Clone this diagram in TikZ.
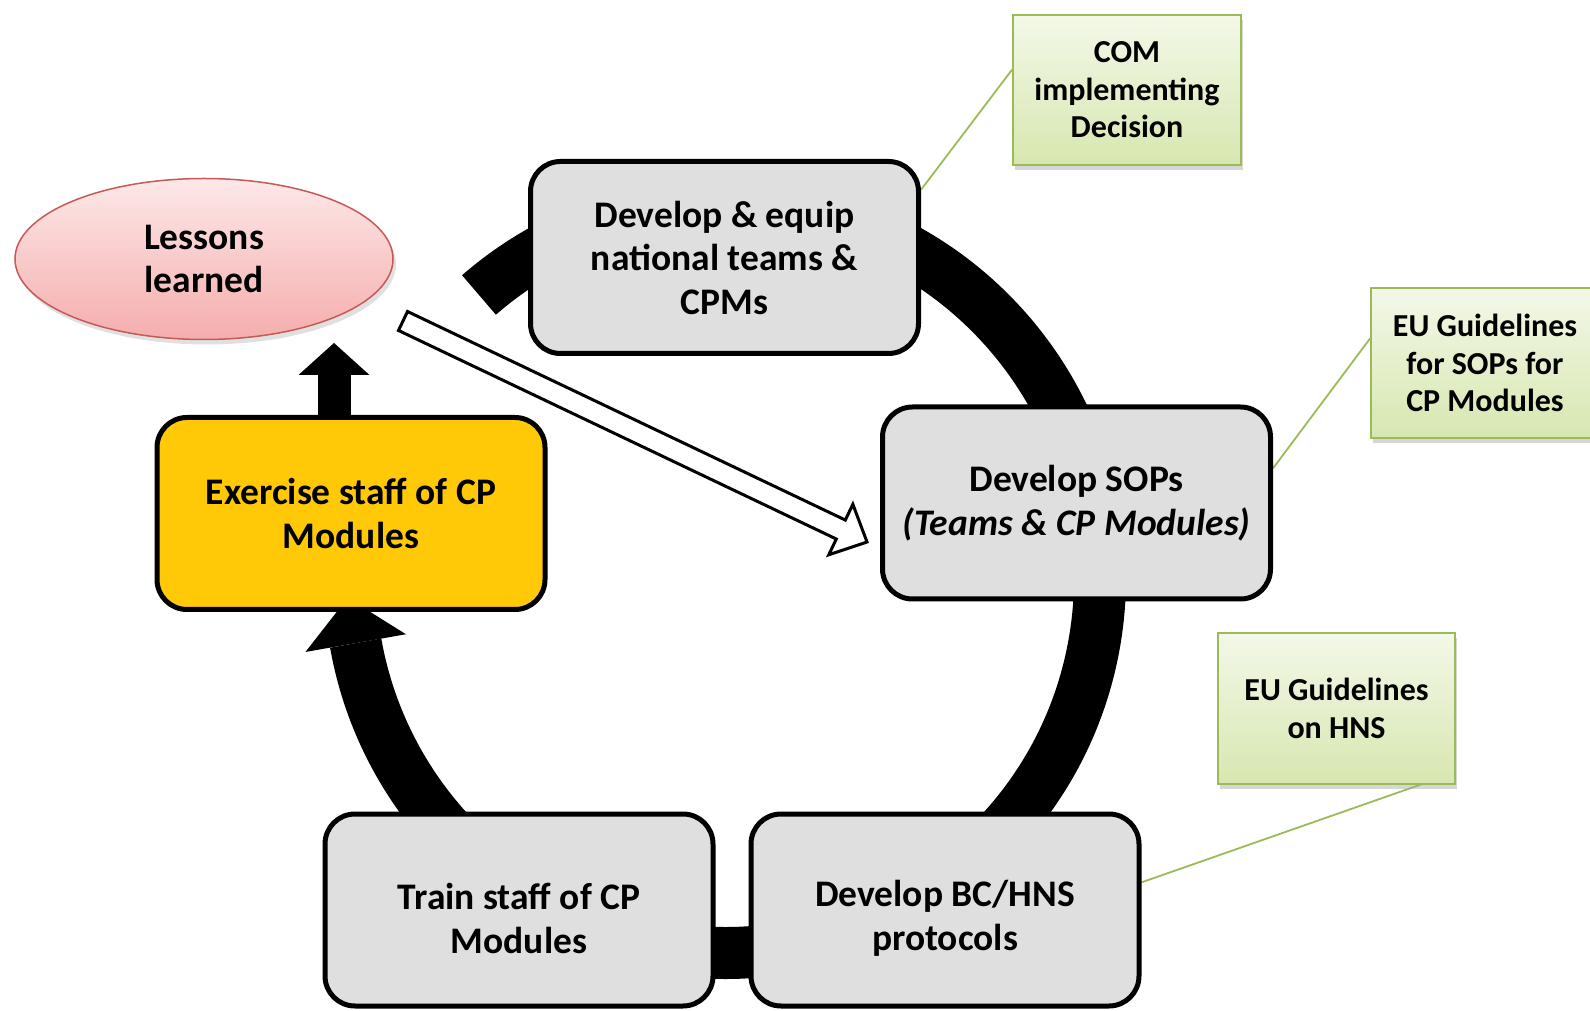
\documentclass[tikz,border=0pt]{standalone}
\usepackage{fontspec}
\setmainfont{Carlito}
\usetikzlibrary{calc,shadows,shapes.geometric}
\definecolor{boxgray}{HTML}{DFDFDF}
\definecolor{exyellow}{HTML}{FFC907}
\definecolor{pinktop}{HTML}{FDE8E8}
\definecolor{pinkbot}{HTML}{F5ADAD}
\definecolor{pinkedge}{HTML}{C55A57}
\definecolor{greentop}{HTML}{F3F8E8}
\definecolor{greenbot}{HTML}{D7E7B0}
\definecolor{greenedge}{HTML}{9BBB59}
\pgfdeclarelayer{bg}
\pgfsetlayers{bg,main}
\begin{document}
\begin{tikzpicture}[x=1pt,y=1pt,
  stepbox/.style={draw=black, line width=5pt, rounded corners=30pt, fill=boxgray,
    minimum width=388pt, minimum height=192pt, align=center, inner sep=0pt,
    font={\fontsize{37.5}{43.5}\selectfont\bfseries}},
  notebox/.style={draw=greenedge, line width=2pt, top color=greentop, bottom color=greenbot,
    minimum width=228pt, minimum height=150pt, align=center, inner sep=0pt,
    font={\fontsize{32}{37.5}\selectfont\bfseries},
    drop shadow={shadow xshift=2pt, shadow yshift=-5pt, fill=black!35, opacity=0.45}},
  noteline/.style={draw=greenedge, line width=1.8pt},
  band/.style={line width=52pt, black}
]
\useasboundingbox (0,0) rectangle (1590,1010);

% main process boxes
\node[stepbox] (A) at (724.5,752.5) {Develop \& equip\\national teams \&\\CPMs};
\node[stepbox] (B) at (1076.5,507) {Develop SOPs\\{\itshape (Teams \& CP Modules)}};
\node[stepbox] (C) at (945,100) {\rule{0pt}{43pt}Develop BC/HNS\\protocols};
\node[stepbox] (D) at (519,100) {\rule{0pt}{43pt}Train staff of CP\\Modules};
\node[stepbox, fill=exyellow] (E) at (351,496.5) {Exercise staff of CP\\Modules};

% lessons learned
\node[ellipse, draw=pinkedge, line width=1.5pt, top color=pinktop, bottom color=pinkbot,
  minimum width=378pt, minimum height=161pt, inner sep=0pt, align=center,
  font={\fontsize{37.5}{43.5}\selectfont\bfseries},
  drop shadow={shadow xshift=3pt, shadow yshift=-5pt, fill=black!30, opacity=0.4}]
  (L) at (204,751) {Lessons\\learned};

% notes
\node[notebox] (N1) at (1127,920) {COM\\implementing\\Decision};
\node[notebox] (N2) at (1485,647) {EU Guidelines\\for SOPs for\\CP Modules};
\node[notebox, minimum width=237pt] (N3) at (1336.5,301.5) {EU Guidelines\\on HNS};

\begin{pgfonlayer}{bg}
  \fill[white] (0,0) rectangle (1590,1010);
  % note connectors
  \draw[noteline] (A.19.5) -- (N1.170);
  \draw[noteline] (B.10) -- (N2.168.7);
  \draw[noteline] (C.8.3) -- (N3.-42.8);
  % the cycle band
  \coordinate (O) at (725,432);
  \draw[band] ($(O)+(131:375)$) arc[start angle=131, end angle=-170, radius=375];
  \fill[black] ($(O)+(-170:324)$) -- ($(O)+(-170:426)$) -- ($(O)+(-170:375)+(100:46)$) -- cycle;
\end{pgfonlayer}

% exercise -> lessons learned arrow
\coordinate (ub) at ($(E.north)+(-17,0)$);
\fill[black] ($(ub)+(-16.5,0)$) rectangle ($(ub)+(16.5,40.5)$);
\fill[black] ($(ub)+(-35.5,40)$) -- ($(ub)+(35.5,40)$) -- ($(ub)+(0,72)$) -- cycle;

% lessons learned -> develop SOPs hollow arrow
\coordinate (ws) at (403,689);
\coordinate (wt) at (867,468);
\coordinate (wh) at ($(wt)!29pt!(ws)$);
\draw[line width=3pt, fill=white, line join=miter]
  ($(ws)!10.5pt!90:(wt)$) -- ($(wh)!10.5pt!90:(wt)$) -- ($(wh)!28pt!90:(wt)$) -- (wt)
  -- ($(wh)!28pt!-90:(wt)$) -- ($(wh)!10.5pt!-90:(wt)$) -- ($(ws)!10.5pt!-90:(wt)$) -- cycle;
\end{tikzpicture}
\end{document}
